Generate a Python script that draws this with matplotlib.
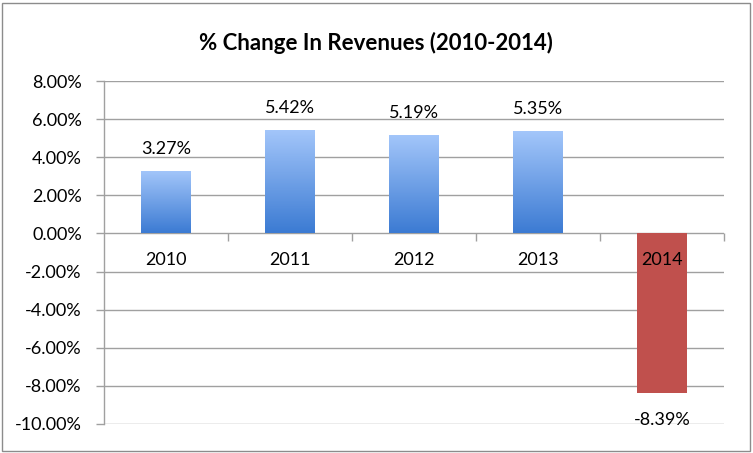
import numpy as np
import matplotlib
matplotlib.use("Agg")
import matplotlib.pyplot as plt
from matplotlib.patches import Rectangle
from matplotlib.ticker import FuncFormatter, FixedLocator
from matplotlib.colors import LinearSegmentedColormap

years = ["2010", "2011", "2012", "2013", "2014"]
changes = [3.27, 5.42, 5.19, 5.35, -8.39]
title = "% Change In Revenues (2010-2014)"

plt.rcParams['font.family'] = ['Lato', 'DejaVu Sans']

fig = plt.figure(figsize=(7.53, 4.53), dpi=100)
ax = fig.add_axes([104/753, 1 - 424/453, 620/753, 343/453])

grid_col = '#a0a0a0'
x = np.arange(len(years))
bars = ax.bar(x, changes, width=0.4, zorder=2)

blue = LinearSegmentedColormap.from_list('b', ['#3c7bd3', '#a3c6fa'])
for b, v in zip(bars, changes):
        if v >= 0:
                b.set_facecolor('none')
                b.set_edgecolor('none')
                grad = np.linspace(0, 1, 100).reshape(-1, 1)
                im = ax.imshow(grad, cmap=blue, aspect='auto', origin='lower',
                               extent=[b.get_x(), b.get_x() + b.get_width(), 0, v],
                               zorder=2)
                im.set_clip_path(b)
        else:
                b.set_facecolor('#c0504d')
                b.set_edgecolor('none')

ax.set_xlim(-0.5, len(years) - 0.5)
ax.set_ylim(-10, 8)
ax.set_yticks(np.arange(-10, 9, 2))
ax.yaxis.set_major_formatter(FuncFormatter(lambda v, p: '%.2f%%' % v))
ax.yaxis.grid(True, color=grid_col, linewidth=1.0)
ax.set_axisbelow(True)

for s in ['top', 'right', 'bottom']:
        ax.spines[s].set_visible(False)
ax.spines['left'].set_color(grid_col)
ax.spines['left'].set_linewidth(1.0)
ax.spines['bottom'].set_position(('data', 0))

ax.tick_params(axis='y', length=6, color=grid_col, width=1.0, labelsize=13, pad=10)
ax.set_xticks([])
ax.xaxis.set_minor_locator(FixedLocator(np.arange(0.5, len(years), 1)))
ax.tick_params(axis='x', which='minor', length=6, color=grid_col, width=1.0)

for i, (yr, v) in enumerate(zip(years, changes)):
        ax.annotate(yr, (i, 0), xytext=(0, -27), textcoords='offset pixels',
                    ha='center', va='center', fontsize=13, zorder=5)
        off = 22 if v >= 0 else -27
        ax.annotate('%.2f%%' % v, (i, v), xytext=(0, off), textcoords='offset pixels',
                    ha='center', va='center', fontsize=13, zorder=5)

fig.text(376/753, 1 - 43/453, title, ha='center', va='center',
         fontsize=16, fontweight='bold')

fig.patches.append(Rectangle((2/753, 2/453), 748/753, 448/453, transform=fig.transFigure,
                             fill=False, edgecolor='#8c8c8c', linewidth=1.0))

fig.savefig('out.png', dpi=100)
